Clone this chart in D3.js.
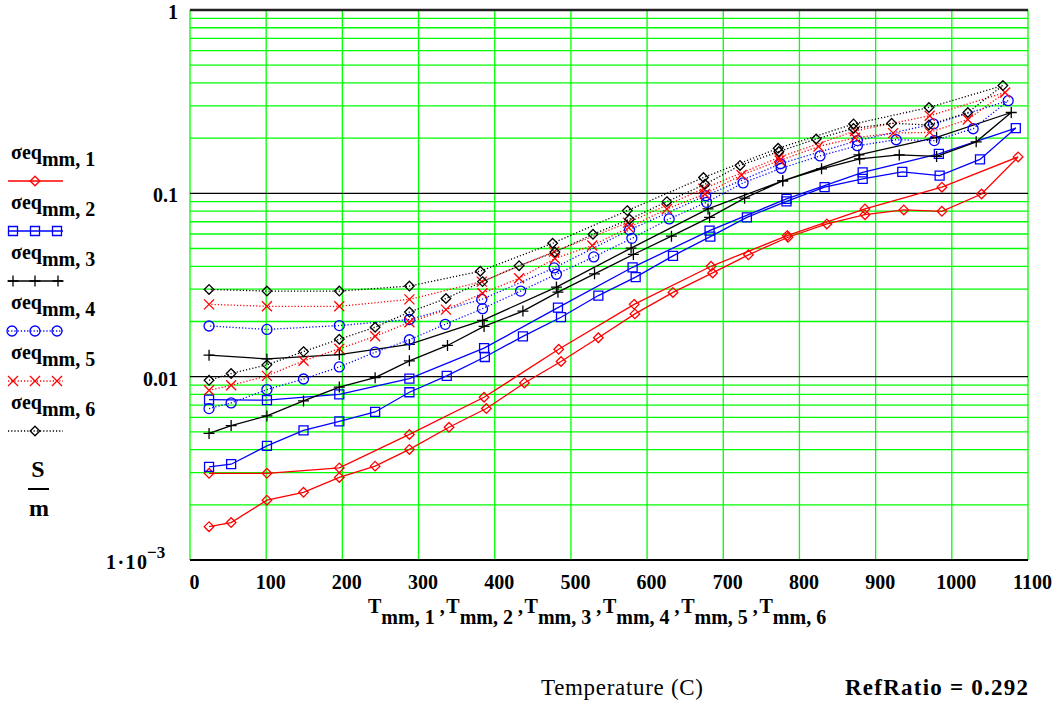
<!DOCTYPE html>
<html><head><meta charset="utf-8">
<script src="https://cdn.jsdelivr.net/npm/d3@7"></script>
<style>body{margin:0;background:#fff}svg{display:block}</style>
</head><body>
<svg id="c" width="1058" height="704"></svg>
<script>
// ---- data (temperature in C, conductivity in S/m) ----
const T1 = [25,54,101,149,196,243,288,340,389,439,487,536,584,634,686,733,785,836,886,937,987,1039,1087, 987,886,784,684,583,484,386,288,196,101,25];
const S1 = [0.00152,0.00160,0.00212,0.00234,0.00282,0.00325,0.00401,0.00530,0.00670,0.00924,0.0121,0.0163,0.0220,0.0288,0.0368,0.0462,0.0576,0.0681,0.0765,0.0812,0.0798,0.0992,0.158, 0.108,0.0822,0.0588,0.0400,0.0248,0.0141,0.00772,0.00484,0.00318,0.00297,0.00297];
const T2 = [25,54,101,149,196,243,288,337,387,437,487,536,585,634,683,731,783,833,883,935,984,1037,1084, 983,883,783,682,581,483,386,288,196,101,25];
const S2 = [0.00322,0.00333,0.00419,0.00510,0.00571,0.00642,0.00822,0.0101,0.0128,0.0166,0.0211,0.0277,0.0349,0.0456,0.0581,0.0740,0.0904,0.108,0.120,0.131,0.125,0.153,0.227, 0.164,0.130,0.0932,0.0626,0.0395,0.0238,0.0143,0.00976,0.00801,0.00744,0.00750];
const T3 = [25,54,101,149,196,243,288,338,386,437,483,531,582,632,682,728,778,829,879,931,980,1032,1078, 980,878,778,680,579,481,384,288,196,101,25];
const S3 = [0.00490,0.00541,0.00611,0.00737,0.00878,0.00988,0.0122,0.0148,0.0188,0.0228,0.0289,0.0364,0.0464,0.0584,0.0740,0.0941,0.117,0.136,0.154,0.162,0.159,0.191,0.276, 0.202,0.162,0.117,0.0822,0.0503,0.0308,0.0203,0.0150,0.0132,0.0125,0.0131];
const T4 = [25,54,101,149,196,243,288,335,384,434,481,530,580,629,678,726,776,827,876,927,977,1028,1074, 976,876,775,677,577,478,383,288,196,101,25];
const S4 = [0.00670,0.00719,0.00850,0.00971,0.0113,0.0136,0.0159,0.0193,0.0235,0.0293,0.0362,0.0450,0.0568,0.0725,0.0893,0.114,0.137,0.160,0.182,0.196,0.194,0.225,0.320, 0.239,0.194,0.145,0.0971,0.0632,0.0392,0.0264,0.0205,0.0190,0.0181,0.0189];
const T5 = [25,54,101,149,196,243,288,336,384,432,479,528,576,626,676,724,774,825,873,923,971,1021,1070, 971,873,773,674,575,478,383,288,196,101,25];
const S5 = [0.00843,0.00897,0.0101,0.0122,0.0142,0.0166,0.0198,0.0232,0.0285,0.0344,0.0441,0.0519,0.0650,0.0822,0.0992,0.126,0.151,0.180,0.201,0.213,0.215,0.253,0.355, 0.265,0.219,0.157,0.106,0.0692,0.0481,0.0330,0.0264,0.0242,0.0242,0.0248];
const T6 = [25,54,101,149,196,243,288,336,384,432,479,529,577,626,676,722,773,822,871,921,970,1021,1067, 970,871,772,674,574,476,381,288,196,101,25];
const S6 = [0.00955,0.0104,0.0116,0.0137,0.0160,0.0186,0.0225,0.0267,0.0330,0.0403,0.0478,0.0598,0.0722,0.0901,0.112,0.142,0.169,0.198,0.226,0.241,0.236,0.276,0.387, 0.294,0.239,0.176,0.122,0.0805,0.0534,0.0376,0.0312,0.0293,0.0293,0.0299];

const xTicks = [0,100,200,300,400,500,600,700,800,900,1000,1100];
const yTicks = [1,0.1,0.01];
const yTickLabels = ["1","0.1","0.01"];
const seriesIdx = ["1","2","3","4","5","6"];
const legendBase = "σeq";
const unitNum = "S", unitDen = "m";
const xAxisTitle = "Temperature (C)";
const refText = "RefRatio = 0.292";

// ---- styles ----
const styles = [
  {color:"#ff0000", dash:null, sym:"diamond", legendMarks:[35]},
  {color:"#0000ff", dash:null, sym:"square", legendMarks:[13,35,57]},
  {color:"#000000", dash:null, sym:"plus", legendMarks:[13,35,58]},
  {color:"#0000ff", dash:"1.2,2", sym:"circle", legendMarks:[12,35,57]},
  {color:"#ff0000", dash:"1.2,2", sym:"cross", legendMarks:[13,35,57]},
  {color:"#000000", dash:"1.2,2", sym:"diamond", legendMarks:[35]}
];
const series = [[T1,S1],[T2,S2],[T3,S3],[T4,S4],[T5,S5],[T6,S6]];

const svg = d3.select("#c");
const L = 190, R = 1028, TOP = 10, BOT = 560;
const x = d3.scaleLinear().domain([0,1100]).range([L,R]);
const y = d3.scaleLog().domain([0.001,1]).range([BOT,TOP]);
const FONT = "'Liberation Serif','Times New Roman',serif";
const GREEN = "#00ff00";
const FS = 20;

// grid
const grid = svg.append("g");
const minor = [];
[0.001,0.01,0.1].forEach(d=>{ for(let k=2;k<=9;k++) minor.push(k*d); });
grid.selectAll("line.hm").data(minor).join("line")
  .attr("x1",L).attr("x2",R).attr("y1",d=>y(d)).attr("y2",d=>y(d))
  .attr("stroke",GREEN).attr("stroke-width",1.3);
grid.selectAll("line.v").data(xTicks).join("line")
  .attr("x1",d=>x(d)).attr("x2",d=>x(d)).attr("y1",TOP).attr("y2",BOT)
  .attr("stroke",GREEN).attr("stroke-width",1.3);
grid.selectAll("line.dec").data([0.1,0.01]).join("line")
  .attr("x1",L).attr("x2",R).attr("y1",d=>y(d)).attr("y2",d=>y(d))
  .attr("stroke","#000").attr("stroke-width",1.4);
grid.append("line").attr("x1",L).attr("x2",R).attr("y1",y(1)).attr("y2",y(1))
  .attr("stroke","#222").attr("stroke-width",2.6);
grid.append("line").attr("x1",L).attr("x2",R).attr("y1",y(0.001)).attr("y2",y(0.001))
  .attr("stroke","#000").attr("stroke-width",2);

// axes (labels only)
const gx = svg.append("g").attr("transform",`translate(0,${BOT})`)
  .call(d3.axisBottom(x).tickValues(xTicks).tickSize(0).tickFormat(d3.format("d")));
gx.select(".domain").remove();
gx.selectAll("text").attr("y",29).attr("dy",null).attr("x",4)
  .attr("font-family",FONT).attr("font-weight","bold").attr("font-size",FS).attr("fill","#000");

const gy = svg.append("g").attr("transform",`translate(${L},0)`)
  .call(d3.axisLeft(y).tickValues(yTicks).tickSize(0).tickFormat((d,i)=>yTickLabels[i]));
gy.select(".domain").remove();
gy.selectAll("text").attr("x",-12).attr("dy",8.5)
  .attr("font-family",FONT).attr("font-weight","bold").attr("font-size",FS).attr("fill","#000");
svg.append("text").attr("x",106).attr("y",y(0.001)+9)
  .attr("font-family",FONT).attr("font-weight","bold").attr("font-size",FS)
  .attr("textLength",41).attr("lengthAdjust","spacing").text("1·10");
svg.append("text").attr("x",147).attr("y",y(0.001)-2)
  .attr("font-family",FONT).attr("font-weight","bold").attr("font-size",17).text("−3");

// symbols
function sym(g, type, cx, cy, color){
  const s = g.append("path").attr("fill","none").attr("stroke",color).attr("stroke-width",1.3)
    .attr("transform",`translate(${cx},${cy})`);
  if(type==="diamond") s.attr("d","M0,-4.8L4.8,0L0,4.8L-4.8,0Z");
  else if(type==="square") s.attr("d","M-4.5,-4.5H4.5V4.5H-4.5Z");
  else if(type==="plus") s.attr("d","M-5.5,0H5.5M0,-5.5V5.5");
  else if(type==="circle") s.attr("d","M5,0A5,5 0 1,1 -5,0A5,5 0 1,1 5,0Z");
  else if(type==="cross") s.attr("d","M-5,-5L5,5M-5,5L5,-5");
}

// traces
const line = d3.line().x(d=>x(d[0])).y(d=>y(d[1]));
series.forEach((s,i)=>{
  const st = styles[i];
  const pts = s[0].map((t,j)=>[t,s[1][j]]);
  const g = svg.append("g");
  g.append("path").datum(pts).attr("d",line).attr("fill","none")
    .attr("stroke",st.color).attr("stroke-width",1.3)
    .attr("stroke-dasharray",st.dash);
  pts.forEach(p=>sym(g,st.sym,x(p[0]),y(p[1]),st.color));
});

// legend
styles.forEach((st,i)=>{
  const by = 159 + 50*i;
  const t = svg.append("text").attr("x",11).attr("y",by)
    .attr("font-family",FONT).attr("font-weight","bold").attr("font-size",FS);
  t.append("tspan").text(legendBase);
  t.append("tspan").attr("dy",7).text("mm, " + seriesIdx[i]);
  const ly = by + 22;
  const g = svg.append("g");
  g.append("line").attr("x1",8).attr("x2",63).attr("y1",ly).attr("y2",ly)
    .attr("stroke",st.color).attr("stroke-width",1.3).attr("stroke-dasharray",st.dash);
  st.legendMarks.forEach(mx=>sym(g,st.sym,mx,ly,st.color));
});

// unit fraction
svg.append("text").attr("x",38).attr("y",477).attr("text-anchor","middle")
  .attr("font-family",FONT).attr("font-weight","bold").attr("font-size",24).text(unitNum);
svg.append("line").attr("x1",28).attr("x2",49).attr("y1",489).attr("y2",489)
  .attr("stroke","#000").attr("stroke-width",2);
svg.append("text").attr("x",39).attr("y",516).attr("text-anchor","middle")
  .attr("font-family",FONT).attr("font-weight","bold").attr("font-size",24).text(unitDen);

// x axis variable label
seriesIdx.forEach((k,i)=>{
  const t = svg.append("text").attr("x",368 + 78.3*i).attr("y",613)
    .attr("font-family",FONT).attr("font-weight","bold").attr("font-size",FS);
  t.append("tspan").text("T");
  t.append("tspan").attr("dy",11).text("mm, " + k);
  if(i<5) t.append("tspan").attr("dy",-11).text(" ,");
});

svg.append("text").attr("x",541).attr("y",695).attr("font-family",FONT)
  .attr("font-size",23).attr("textLength",162).attr("lengthAdjust","spacing").text(xAxisTitle);
svg.append("text").attr("x",845).attr("y",695).attr("font-family",FONT).attr("font-weight","bold")
  .attr("font-size",23).attr("textLength",183).attr("lengthAdjust","spacing").text(refText);
</script>
</body></html>
